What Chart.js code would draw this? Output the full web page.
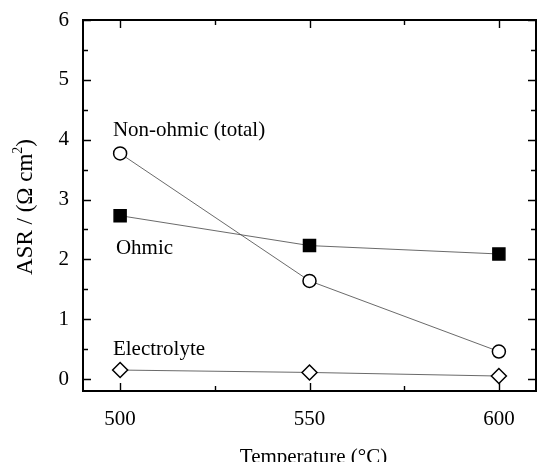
<!DOCTYPE html>
<html>
<head>
<meta charset="utf-8">
<script src="https://cdn.jsdelivr.net/npm/chart.js@4.4.1/dist/chart.umd.min.js"></script>
<style>
  html, body { margin: 0; padding: 0; background: #fff; }
  #wrap { width: 537px; height: 462px; }
</style>
</head>
<body>
<div id="wrap"><canvas id="asr"></canvas></div>
<script>
"use strict";

// temperatures (C)
const temps = [500, 550, 600];

// ASR values, ohm cm2
const nonOhmic = [3.77, 1.64, 0.46];
const ohmic = [2.73, 2.23, 2.09];
const electrolyte = [0.15, 0.11, 0.05];

const xTicks = [500, 550, 600];
const xMinor = [525, 575];
const yTicks = [0, 1, 2, 3, 4, 5, 6];
const yMinor = [0.5, 1.5, 2.5, 3.5, 4.5, 5.5];

// series label text + anchor (in data units)
const seriesLabels = [
    { text: "Non-ohmic (total)", x: 498.1, y: 4.16 },
    { text: "Ohmic", x: 498.9, y: 2.19 },
    { text: "Electrolyte", x: 498.1, y: 0.5 }
];

const FONT = "'Liberation Serif', 'Times New Roman', serif";

function pts(ys) {
    return temps.map((t, i) => ({ x: t, y: ys[i] }));
}

// ticks pointing inward on all four sides + frame + text labels
const decor = {
    id: "decor",
    afterDatasetsDraw(chart) {
        const ctx = chart.ctx;
        const a = chart.chartArea;
        const xs = chart.scales.x, ys = chart.scales.y;
        ctx.save();
        ctx.strokeStyle = "#000";
        ctx.lineWidth = 2;
        ctx.strokeRect(a.left, a.top, a.right - a.left, a.bottom - a.top);

        ctx.lineWidth = 1.4;
        ctx.beginPath();
        xTicks.concat(xMinor).forEach(v => {
            const p = Math.round(xs.getPixelForValue(v)) + 0.5;
            const len = xTicks.includes(v) ? 8 : 5;
            ctx.moveTo(p, a.bottom); ctx.lineTo(p, a.bottom - len);
            ctx.moveTo(p, a.top); ctx.lineTo(p, a.top + len);
        });
        yTicks.concat(yMinor).forEach(v => {
            const p = Math.round(ys.getPixelForValue(v)) + 0.5;
            const len = yTicks.includes(v) ? 8 : 5;
            ctx.moveTo(a.left, p); ctx.lineTo(a.left + len, p);
            ctx.moveTo(a.right, p); ctx.lineTo(a.right - len, p);
        });
        ctx.stroke();

        ctx.fillStyle = "#000";
        ctx.font = "21px " + FONT;
        ctx.textBaseline = "middle";
        ctx.textAlign = "left";
        seriesLabels.forEach(l => {
            ctx.fillText(l.text, xs.getPixelForValue(l.x), ys.getPixelForValue(l.y));
        });

        // x title
        ctx.textAlign = "center";
        ctx.textBaseline = "alphabetic";
        ctx.fillText("Temperature (\u00B0C)", (a.left + a.right) / 2 + 4, 463);

        // y title, rotated, with superscript 2
        ctx.translate(32, 207);
        ctx.rotate(-Math.PI / 2);
        ctx.font = "23px " + FONT;
        const main = "ASR / (\u03A9 cm";
        const wMain = ctx.measureText(main).width;
        ctx.font = "14px " + FONT;
        const wSup = ctx.measureText("2").width;
        ctx.font = "23px " + FONT;
        const wEnd = ctx.measureText(")").width;
        let x0 = -(wMain + wSup + wEnd) / 2;
        ctx.textAlign = "left";
        ctx.fillText(main, x0, 0);
        ctx.font = "14px " + FONT;
        ctx.fillText("2", x0 + wMain, -10);
        ctx.font = "23px " + FONT;
        ctx.fillText(")", x0 + wMain + wSup, 0);
        ctx.restore();
    }
};

const lineStyle = {
    showLine: true,
    borderColor: "#444",
    borderWidth: 0.8,
    pointBorderColor: "#000",
    pointBorderWidth: 1.5
};

new Chart(document.getElementById("asr"), {
    type: "scatter",
    data: {
        datasets: [
            Object.assign({
                label: "Non-ohmic (total)",
                data: pts(nonOhmic),
                pointStyle: "circle",
                pointRadius: 6.5,
                pointBackgroundColor: "#fff"
            }, lineStyle),
            Object.assign({
                label: "Ohmic",
                data: pts(ohmic),
                pointStyle: "rect",
                pointRadius: 8.5,
                pointBackgroundColor: "#000"
            }, lineStyle),
            Object.assign({
                label: "Electrolyte",
                data: pts(electrolyte),
                pointStyle: "rectRot",
                pointRadius: 7.5,
                pointBackgroundColor: "#fff"
            }, lineStyle)
        ]
    },
    options: {
        responsive: true,
        maintainAspectRatio: false,
        animation: false,
        layout: { autoPadding: false, padding: { top: 20, right: 1, left: 0, bottom: 0 } },
        plugins: {
            legend: { display: false },
            tooltip: { enabled: false }
        },
        scales: {
            x: {
                type: "linear",
                min: 490.2,
                max: 609.8,
                afterBuildTicks: s => { s.ticks = xTicks.map(v => ({ value: v })); },
                afterFit: s => { s.height = 71; s.paddingLeft = 0; s.paddingRight = 0; },
                grid: { display: false },
                border: { display: false },
                ticks: {
                    color: "#000",
                    padding: 8,
                    font: { family: FONT, size: 21 }
                }
            },
            y: {
                type: "linear",
                min: -0.2,
                max: 6,
                afterBuildTicks: s => { s.ticks = yTicks.map(v => ({ value: v })); },
                afterFit: s => { s.width = 83; s.paddingTop = 0; s.paddingBottom = 0; },
                grid: { display: false },
                border: { display: false },
                ticks: {
                    color: "#000",
                    padding: 6,
                    font: { family: FONT, size: 21 }
                }
            }
        }
    },
    plugins: [decor]
});
</script>
</body>
</html>
